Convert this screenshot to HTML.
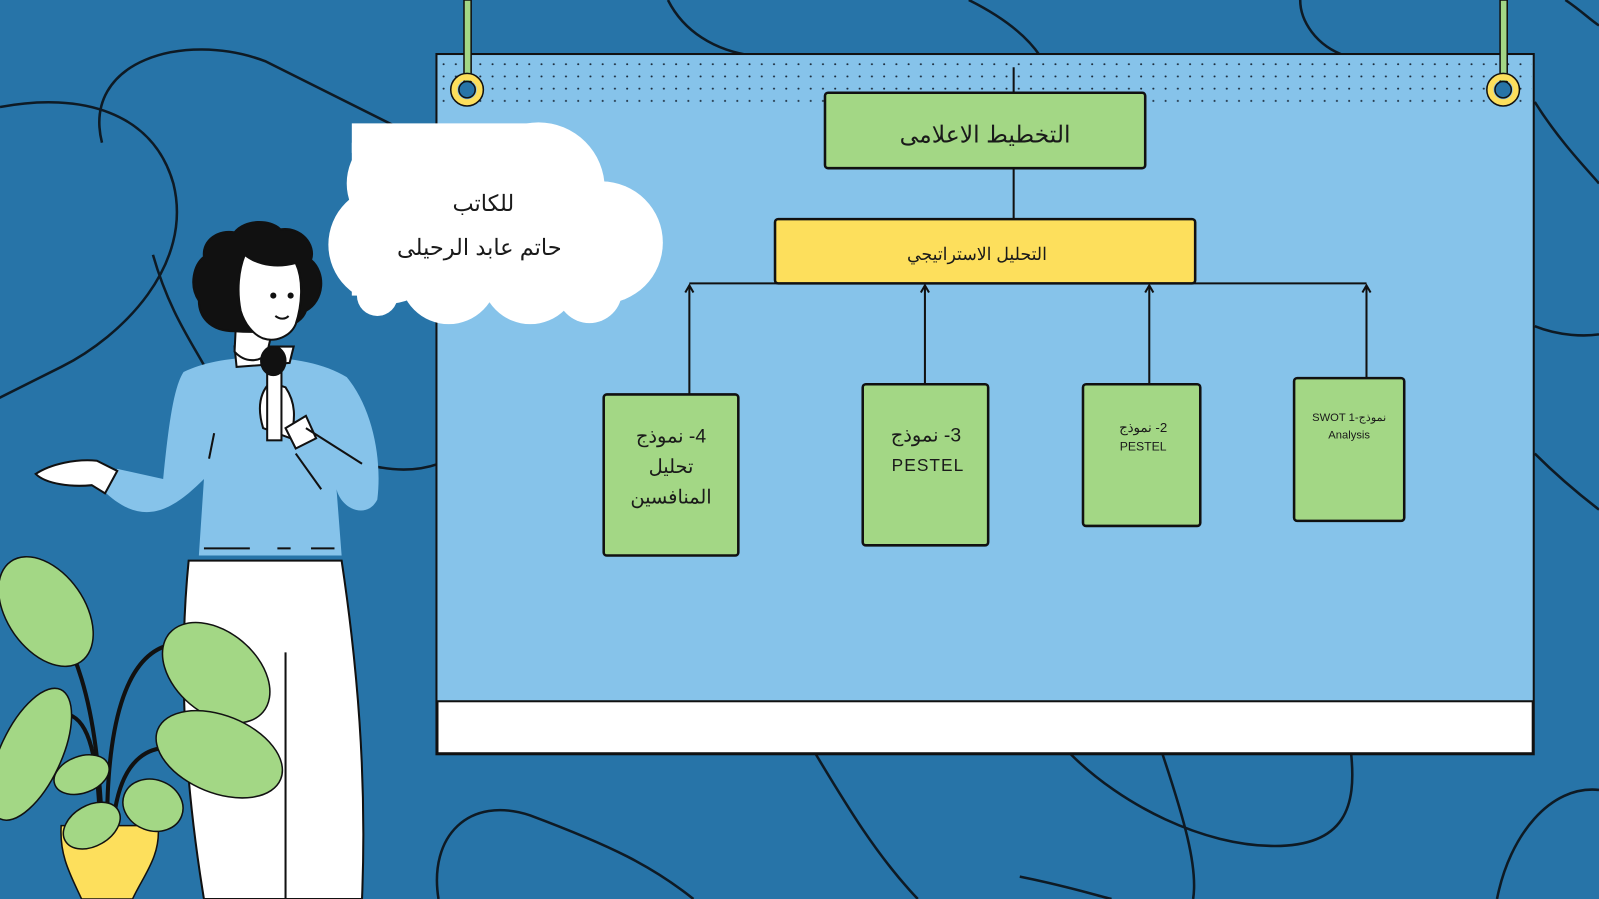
<!DOCTYPE html>
<html><head><meta charset="utf-8"><style>
html,body{margin:0;padding:0;width:1599px;height:899px;overflow:hidden;background:#2774a8}
svg{display:block}
text{font-family:"Liberation Sans","Noto Sans CJK SC",sans-serif;fill:#1a1a1a}
</style></head><body>
<svg width="1599" height="899" viewBox="0 0 1568 882" preserveAspectRatio="none" xmlns="http://www.w3.org/2000/svg">
<defs>
<pattern id="dots" width="12" height="12" patternUnits="userSpaceOnUse"><circle cx="3" cy="3" r="1" fill="#1a2a3a"/></pattern>
</defs>
<rect width="1568" height="882" fill="#2774a8"/>
<!-- background squiggles -->
<g fill="none" stroke="#0e1a24" stroke-width="2.5">
<path d="M0,105 C80,90 150,110 170,180 C190,260 120,330 60,360 C20,380 0,390 -10,395"/>
<path d="M100,140 C80,60 180,30 260,60 C320,90 380,120 420,140"/>
<path d="M150,250 C170,320 200,350 210,380"/>
<path d="M370,458 C390,462 410,462 430,455"/>
<path d="M655,0 C670,30 700,50 740,55"/>
<path d="M950,0 C990,20 1010,40 1020,55"/>
<path d="M1275,0 C1275,20 1290,45 1320,55"/>
<path d="M1505,100 C1530,140 1560,170 1568,180"/>
<path d="M1505,320 C1530,330 1555,330 1568,328"/>
<path d="M1505,445 C1530,470 1555,490 1568,500"/>
<path d="M1535,0 C1550,10 1560,20 1568,25"/>
<path d="M430,882 C420,820 460,780 520,800 C600,830 640,850 680,882"/>
<path d="M800,740 C830,790 860,840 900,882"/>
<path d="M1050,740 C1100,790 1180,830 1250,830 C1320,830 1330,790 1325,740"/>
<path d="M1140,740 C1160,800 1175,850 1170,882"/>
<path d="M1468,882 C1480,820 1520,770 1568,775"/>
<path d="M1000,860 C1050,870 1080,880 1090,882"/>
</g>
<!-- board -->
<rect x="428" y="53" width="1076" height="687" fill="#86c3ea" stroke="#111" stroke-width="2"/>
<rect x="430" y="55" width="1072" height="52" fill="url(#dots)"/>
<rect x="429" y="688" width="1074" height="51" fill="#fff" stroke="#111" stroke-width="2"/>
<!-- pins -->
<rect x="455" y="0" width="7" height="80" fill="#a3d785" stroke="#111" stroke-width="1.5"/>
<circle cx="458" cy="88" r="13" fill="none" stroke="#fddf5c" stroke-width="7"/>
<circle cx="458" cy="88" r="16" fill="none" stroke="#111" stroke-width="1.5"/>
<circle cx="458" cy="88" r="8" fill="#2774a8" stroke="#111" stroke-width="1.5"/>
<rect x="1471" y="0" width="7" height="80" fill="#a3d785" stroke="#111" stroke-width="1.5"/>
<circle cx="1474" cy="88" r="13" fill="none" stroke="#fddf5c" stroke-width="7"/>
<circle cx="1474" cy="88" r="16" fill="none" stroke="#111" stroke-width="1.5"/>
<circle cx="1474" cy="88" r="8" fill="#2774a8" stroke="#111" stroke-width="1.5"/>
<!-- connectors -->
<g stroke="#111" stroke-width="2" fill="none">
<line x1="994" y1="66" x2="994" y2="91"/>
<line x1="994" y1="165" x2="994" y2="215"/>
<line x1="676" y1="278" x2="1340" y2="278"/>
<line x1="676" y1="387" x2="676" y2="280"/>
<line x1="907" y1="377" x2="907" y2="280"/>
<line x1="1127" y1="377" x2="1127" y2="280"/>
<line x1="1340" y1="371" x2="1340" y2="280"/>
<path d="M672,287 L676,280 L680,287"/>
<path d="M903,287 L907,280 L911,287"/>
<path d="M1123,287 L1127,280 L1131,287"/>
<path d="M1336,287 L1340,280 L1344,287"/>
</g>
<rect x="809" y="91" width="314" height="74" rx="3" fill="#a3d785" stroke="#111" stroke-width="2.5"/>
<text x="966" y="140" font-size="23" text-anchor="middle" direction="rtl">التخطيط الاعلامى</text>
<rect x="760" y="215" width="412" height="63" rx="3" fill="#fddf5c" stroke="#111" stroke-width="2.5"/>
<text x="958" y="255" font-size="17" text-anchor="middle" direction="rtl">التحليل الاستراتيجي</text>
<rect x="592" y="387" width="132" height="158" rx="3" fill="#a3d785" stroke="#111" stroke-width="2.5"/>
<text x="658" y="434" font-size="19" text-anchor="middle" direction="rtl">4- نموذج</text>
<text x="658" y="464" font-size="19" text-anchor="middle" direction="rtl">تحليل</text>
<text x="658" y="494" font-size="19" text-anchor="middle" direction="rtl">المنافسين</text>
<rect x="846" y="377" width="123" height="158" rx="3" fill="#a3d785" stroke="#111" stroke-width="2.5"/>
<text x="908" y="433" font-size="19" text-anchor="middle" direction="rtl">3- نموذج</text>
<text x="910" y="462" font-size="17" text-anchor="middle" letter-spacing="1">PESTEL</text>
<rect x="1062" y="377" width="115" height="139" rx="3" fill="#a3d785" stroke="#111" stroke-width="2.5"/>
<text x="1121" y="424" font-size="13" text-anchor="middle" direction="rtl">2- نموذج</text>
<text x="1121" y="442" font-size="12" text-anchor="middle">PESTEL</text>
<rect x="1269" y="371" width="108" height="140" rx="3" fill="#a3d785" stroke="#111" stroke-width="2.5"/>
<text x="1323" y="413" font-size="11" text-anchor="middle">SWOT نموذج-1</text>
<text x="1323" y="430" font-size="11" text-anchor="middle">Analysis</text>
<!-- cloud -->
<g fill="#fff">
<path d="M345,121 L525,121 L525,150 L345,150Z"/>
<circle cx="395" cy="180" r="55"/><circle cx="528" cy="185" r="65"/>
<circle cx="590" cy="238" r="60"/><circle cx="380" cy="240" r="58"/>
<circle cx="440" cy="270" r="48"/><circle cx="520" cy="270" r="48"/>
<circle cx="578" cy="285" r="32"/><circle cx="370" cy="290" r="20"/>
<rect x="345" y="140" width="220" height="150"/>
</g>
<text x="474" y="207" font-size="22" text-anchor="middle" direction="rtl">للكاتب</text>
<text x="470" y="250" font-size="22" text-anchor="middle" direction="rtl">حاتم عابد الرحيلى</text>
<!-- person -->
<g stroke="#111" stroke-width="2">
<path d="M185,550 L335,550 C350,650 360,760 355,882 L200,882 C180,760 175,650 185,550Z" fill="#fff"/>
<line x1="280" y1="640" x2="280" y2="882"/>
<path d="M180,365 C220,345 300,345 340,370 C365,400 375,450 370,490 C360,510 335,500 330,480 L335,545 L195,545 L200,470 C170,500 140,520 100,480 L115,460 L160,470 C165,420 170,380 180,365Z" fill="#86c3ea" stroke="none"/>
<line x1="200" y1="538" x2="245" y2="538"/><line x1="272" y1="538" x2="285" y2="538"/><line x1="305" y1="538" x2="328" y2="538"/>
<path d="M35,465 C50,455 75,450 95,452 L115,462 L103,484 L90,476 C70,478 45,475 35,465Z" fill="#fff"/>
<path d="M230,340 L288,340 L284,356 L232,360Z" fill="#fff"/>
<path d="M232,305 L230,345 C240,356 255,356 262,346 L268,320Z" fill="#fff"/>
<path d="M230,325 C205,325 195,310 195,295 C185,280 190,260 200,252 C198,235 215,225 230,228 C240,215 265,215 275,225 C295,222 310,240 305,255 C320,268 318,295 300,305 C295,320 270,328 230,325Z" fill="#111"/>
<path d="M240,250 C255,262 275,262 290,258 C298,275 296,300 290,318 C285,330 270,336 258,332 C248,328 240,318 236,305 C232,285 234,265 240,250Z" fill="#fff"/>
<circle cx="268" cy="290" r="2" fill="#111"/><circle cx="285" cy="290" r="2" fill="#111"/>
<path d="M270,310 C275,314 280,313 283,310" fill="none"/>
<path d="M258,420 C252,400 255,385 265,375 L280,380 C290,395 290,410 285,430Z" fill="#fff"/>
<rect x="262" y="360" width="14" height="72" fill="#fff"/>
<ellipse cx="268" cy="354" rx="12" ry="14" fill="#111"/>
<path d="M280,420 L300,408 L310,430 L290,440Z" fill="#fff"/>
<line x1="300" y1="420" x2="355" y2="455" fill="none"/>
<line x1="290" y1="445" x2="315" y2="480" fill="none"/>
<line x1="210" y1="425" x2="205" y2="450"/>
</g>
<!-- plant -->
<g stroke="#111" stroke-width="1.5">
<path d="M60,810 L155,810 C158,840 140,860 130,882 L80,882 C70,860 58,840 60,810Z" fill="#fddf5c"/>
<g fill="none" stroke-width="4">
<path d="M100,810 C95,700 80,620 15,560"/>
<path d="M105,810 C105,720 120,640 170,632"/>
<path d="M98,805 C95,720 80,700 60,700 C40,700 20,730 0,760"/>
<path d="M112,800 C120,740 150,730 175,735 C200,740 230,750 255,760"/>
</g>
<g fill="#a3d785">
<ellipse cx="45" cy="600" rx="38" ry="60" transform="rotate(-35 45 600)"/>
<ellipse cx="212" cy="660" rx="40" ry="60" transform="rotate(-50 212 660)"/>
<ellipse cx="215" cy="740" rx="38" ry="65" transform="rotate(-68 215 740)"/>
<ellipse cx="30" cy="740" rx="30" ry="70" transform="rotate(25 30 740)"/>
<ellipse cx="80" cy="760" rx="28" ry="18" transform="rotate(-20 80 760)"/>
<ellipse cx="150" cy="790" rx="30" ry="25" transform="rotate(20 150 790)"/>
<ellipse cx="90" cy="810" rx="30" ry="20" transform="rotate(-30 90 810)"/>
</g>
</g>
</svg>
</body></html>
